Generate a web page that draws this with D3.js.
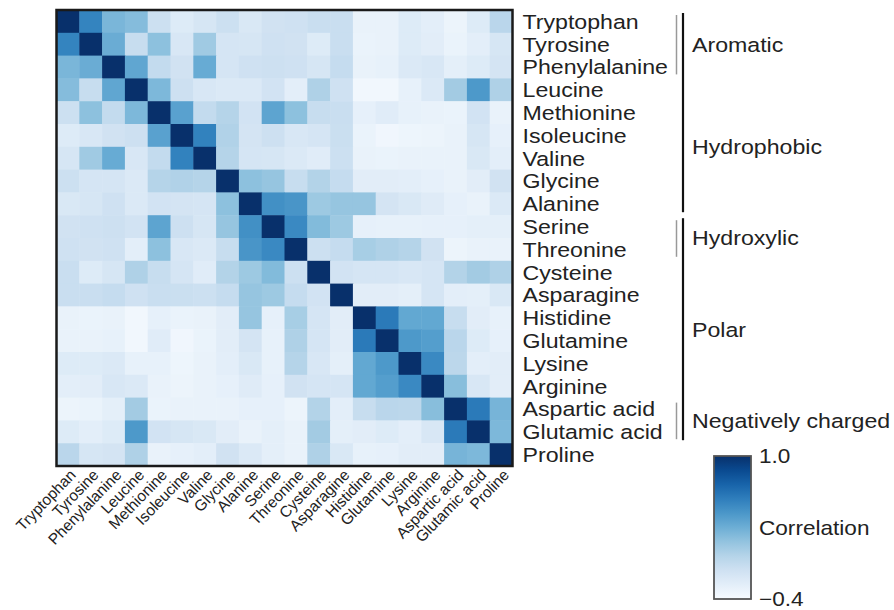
<!DOCTYPE html>
<html>
<head>
<meta charset="utf-8">
<script src="https://cdn.jsdelivr.net/npm/d3@7"></script>
<style>
  body { margin: 0; background: #fff; }
  text { font-family: "Liberation Sans", Arial, sans-serif; fill: #222; }
</style>
</head>
<body>
<div class="chart"></div>
<script>
// amino acid correlation heatmap

var aminoAcids = ["Tryptophan", "Tyrosine", "Phenylalanine", "Leucine", "Methionine",
  "Isoleucine", "Valine", "Glycine", "Alanine", "Serine", "Threonine", "Cysteine",
  "Asparagine", "Histidine", "Glutamine", "Lysine", "Arginine", "Aspartic acid",
  "Glutamic acid", "Proline"];

// lower triangle of the correlation matrix (row i, columns 0..i-1), diagonal = 1
var corrLower = [
  [],
  [0.55],
  [0.25, 0.31],
  [0.21, -0.07, 0.35],
  [-0.10, 0.18, -0.05, 0.24],
  [-0.22, -0.18, -0.13, -0.11, 0.38],
  [-0.17, 0.11, 0.32, -0.18, -0.05, 0.56],
  [-0.10, -0.16, -0.16, -0.20, 0.02, 0.04, 0.02],
  [-0.19, -0.17, -0.12, -0.20, -0.14, -0.15, -0.16, 0.18],
  [-0.13, -0.12, -0.11, -0.14, 0.36, -0.11, -0.17, 0.15, 0.48],
  [-0.12, -0.13, -0.12, -0.26, 0.18, -0.18, -0.20, -0.07, 0.45, 0.52],
  [-0.08, -0.22, -0.17, 0.05, -0.07, -0.16, -0.24, 0.03, 0.12, 0.22, -0.10],
  [-0.08, -0.08, -0.06, -0.12, -0.08, -0.09, -0.10, -0.06, 0.15, 0.12, -0.06, -0.14],
  [-0.30, -0.31, -0.30, -0.36, -0.28, -0.31, -0.30, -0.25, 0.15, -0.28, 0.08, -0.16, -0.25],
  [-0.30, -0.30, -0.29, -0.36, -0.24, -0.35, -0.31, -0.25, -0.15, -0.29, 0.05, -0.16, -0.25, 0.60],
  [-0.22, -0.22, -0.20, -0.29, -0.29, -0.33, -0.30, -0.26, -0.19, -0.29, 0.02, -0.18, -0.27, 0.34, 0.43],
  [-0.26, -0.25, -0.18, -0.20, -0.30, -0.32, -0.30, -0.28, -0.23, -0.28, -0.13, -0.16, -0.16, 0.34, 0.40, 0.52],
  [-0.32, -0.31, -0.27, 0.10, -0.31, -0.30, -0.30, -0.30, -0.28, -0.28, -0.32, 0.03, -0.26, -0.07, 0.00, -0.01, 0.20],
  [-0.22, -0.26, -0.22, 0.43, -0.14, -0.17, -0.19, -0.25, -0.30, -0.27, -0.30, 0.10, -0.27, -0.25, -0.22, -0.26, -0.18, 0.60],
  [0.00, -0.17, -0.15, 0.05, -0.30, -0.28, -0.26, -0.13, -0.20, -0.27, -0.30, 0.05, -0.19, -0.29, -0.28, -0.25, -0.25, 0.26, 0.24]
];

// bracket groups on the right (first and last row index)
var groupNames = ["Aromatic", "Hydrophobic", "Hydroxylic", "Polar", "Negatively charged"];
var groupFrom = [0, 3, 9, 11, 17];
var groupTo = [2, 8, 10, 16, 18];
// long black brackets
var bracketFrom = [0, 9];
var bracketTo = [8, 18];
// short grey brackets
var subFrom = [0, 9, 17];
var subTo = [2, 10, 18];

var colorDomain = [-0.4, 1.0];
var colorTicks = ["1.0", "\u22120.4"];

var width = 894,
    height = 610,
    mapLeft = 56.5,
    mapTop = 10,
    mapSize = 456;

var svg = d3.select(".chart").append("svg")
    .attr("width", width)
    .attr("height", height);

var x = d3.scaleBand().domain(aminoAcids).range([mapLeft, mapLeft + mapSize]);
var y = d3.scaleBand().domain(aminoAcids).range([mapTop, mapTop + mapSize]);
var color = d3.scaleSequential(d3.interpolateBlues).domain(colorDomain);

var cellValue = function(i, j) {
  if (i === j) return 1;
  return i > j ? corrLower[i][j] : corrLower[j][i];
};

var cells = [];
aminoAcids.forEach(function(r, i) {
  aminoAcids.forEach(function(c, j) {
    cells.push({row: r, col: c, value: cellValue(i, j)});
  });
});

svg.append("g").selectAll("rect")
    .data(cells)
  .enter().append("rect")
    .attr("x", function(d) { return x(d.col); })
    .attr("y", function(d) { return y(d.row); })
    .attr("width", x.bandwidth() + 0.5)
    .attr("height", y.bandwidth() + 0.5)
    .attr("fill", function(d) { return color(d.value); });

svg.append("rect")
    .attr("x", mapLeft)
    .attr("y", mapTop)
    .attr("width", mapSize)
    .attr("height", mapSize)
    .attr("fill", "none")
    .attr("stroke", "#1a1a1a")
    .attr("stroke-width", 2.5);

// row labels on the right
svg.append("g").selectAll("text")
    .data(aminoAcids)
  .enter().append("text")
    .attr("transform", function(d) {
      return "translate(" + (mapLeft + mapSize + 10) + "," + (y(d) + y.bandwidth() / 2) + ") scale(1.13,1)";
    })
    .attr("dy", "0.36em")
    .style("font-size", "20.5px")
    .text(function(d) { return d; });

// column labels underneath, rotated
svg.append("g").selectAll("text")
    .data(aminoAcids)
  .enter().append("text")
    .attr("transform", function(d) {
      return "translate(" + (x(d) + x.bandwidth() / 2 + 5) + "," + (mapTop + mapSize + 6) + ") rotate(-46)";
    })
    .attr("text-anchor", "end")
    .attr("dy", "0.35em")
    .style("font-size", "15.5px")
    .text(function(d) { return d; });

// brackets
var rowTop = function(i) { return y(aminoAcids[i]); };
var rowBottom = function(i) { return y(aminoAcids[i]) + y.bandwidth(); };

svg.append("g").selectAll("line")
    .data(bracketFrom)
  .enter().append("line")
    .attr("x1", 683).attr("x2", 683)
    .attr("y1", function(d) { return rowTop(d) + 3; })
    .attr("y2", function(d, i) { return rowBottom(bracketTo[i]) - 3; })
    .attr("stroke", "#111")
    .attr("stroke-width", 2.2);

svg.append("g").selectAll("line")
    .data(subFrom)
  .enter().append("line")
    .attr("x1", 676.5).attr("x2", 676.5)
    .attr("y1", function(d) { return rowTop(d) + 5; })
    .attr("y2", function(d, i) { return rowBottom(subTo[i]) - 4; })
    .attr("stroke", "#999")
    .attr("stroke-width", 1.5);

svg.append("g").selectAll("text")
    .data(groupNames)
  .enter().append("text")
    .attr("transform", function(d, i) {
      var cy = (rowTop(groupFrom[i]) + rowBottom(groupTo[i])) / 2;
      return "translate(692," + cy + ") scale(1.13,1)";
    })
    .attr("dy", "0.36em")
    .style("font-size", "20.5px")
    .text(function(d) { return d; });

// colour bar
var barX = 714,
    barW = 37;
var barY = d3.scaleLinear().domain(colorDomain).range([599, 456]);

var grad = svg.append("defs").append("linearGradient")
    .attr("id", "bar")
    .attr("x1", 0).attr("y1", 1)
    .attr("x2", 0).attr("y2", 0);

d3.range(0, 1.001, 0.1).forEach(function(t) {
  grad.append("stop")
      .attr("offset", t)
      .attr("stop-color", color(colorDomain[0] + t * (colorDomain[1] - colorDomain[0])));
});

svg.append("rect")
    .attr("x", barX)
    .attr("y", barY(colorDomain[1]))
    .attr("width", barW)
    .attr("height", barY(colorDomain[0]) - barY(colorDomain[1]))
    .attr("fill", "url(#bar)")
    .attr("stroke", "#555")
    .attr("stroke-width", 1.8);

svg.append("g").selectAll("text")
    .data(colorDomain.slice().reverse())
  .enter().append("text")
    .attr("transform", function(d) { return "translate(" + (barX + barW + 8) + "," + barY(d) + ") scale(1.13,1)"; })
    .attr("dy", "0.34em")
    .style("font-size", "20px")
    .text(function(d, i) { return colorTicks[i]; });

svg.append("text")
    .attr("transform", "translate(" + (barX + barW + 8) + "," + barY(0.3) + ") scale(1.13,1)")
    .attr("dy", "0.36em")
    .style("font-size", "20px")
    .text("Correlation");
</script>
</body>
</html>
